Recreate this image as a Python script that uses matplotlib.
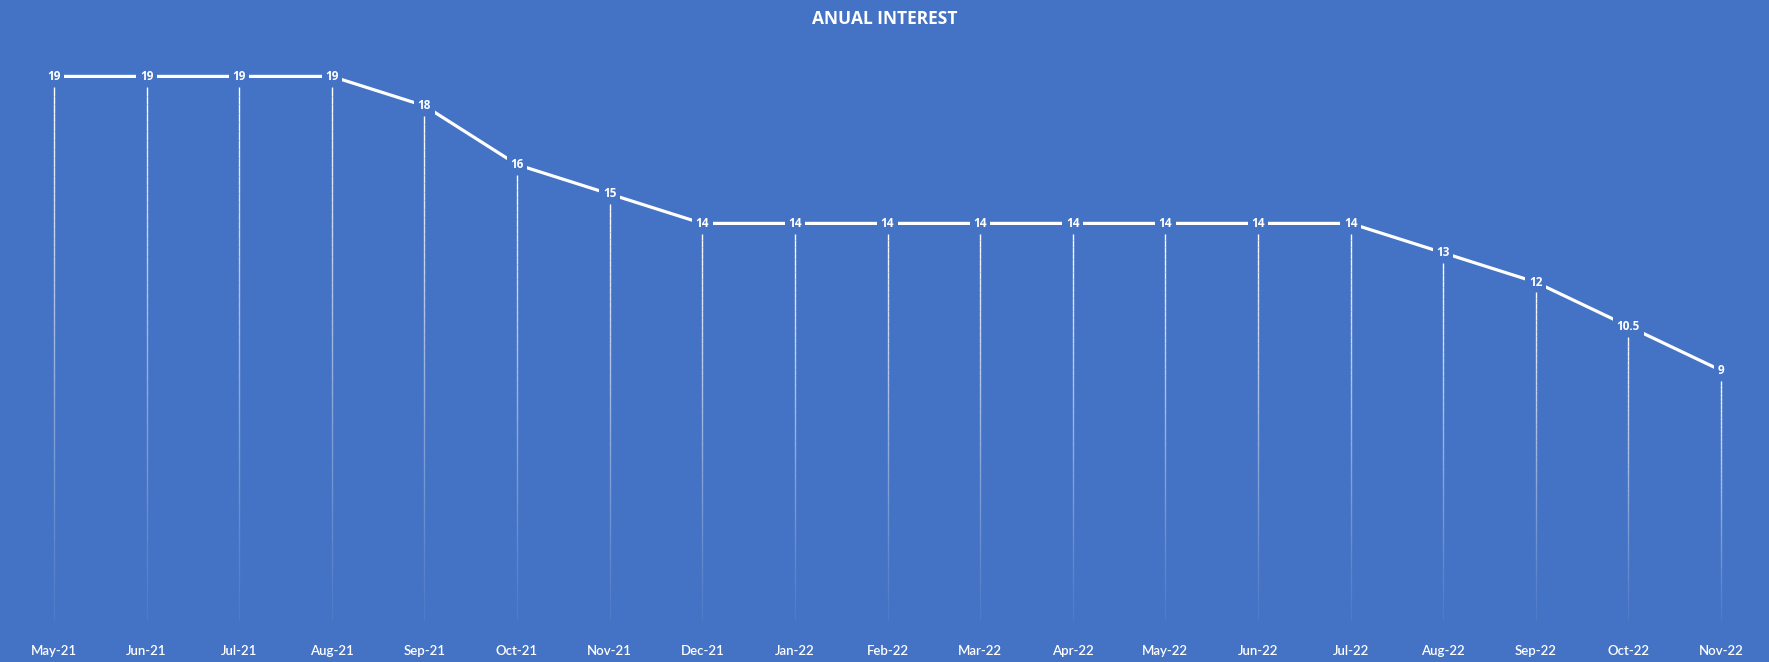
import matplotlib
matplotlib.use("Agg")
import matplotlib.pyplot as plt
import numpy as np
from matplotlib.collections import LineCollection

months = ["May-21", "Jun-21", "Jul-21", "Aug-21", "Sep-21", "Oct-21", "Nov-21",
          "Dec-21", "Jan-22", "Feb-22", "Mar-22", "Apr-22", "May-22", "Jun-22",
          "Jul-22", "Aug-22", "Sep-22", "Oct-22", "Nov-22"]
rates = [19, 19, 19, 19, 18, 16, 15, 14, 14, 14, 14, 14, 14, 14, 14, 13, 12, 10.5, 9]
title = "ANUAL INTEREST"

BG = "#4472C4"
plt.rcParams['font.family'] = ['Open Sans', 'DejaVu Sans']

fig = plt.figure(figsize=(17.69, 6.62), dpi=100, facecolor=BG)
ax = fig.add_axes([54/1769, 1-635/662, (1721-54)/1769, (635-47)/662])
ax.set_facecolor(BG)
x = np.arange(len(months))
ax.set_xlim(0, len(months)-1)
ax.set_ylim(0, 20)

# gradient drop lines
segs, cols = [], []
n = 60
for xi, v in zip(x, rates):
    top = v - 0.35
    ys = np.linspace(0.5, top, n+1)
    for k in range(n):
        segs.append([(xi, ys[k]), (xi, ys[k+1])])
        a = (k+1)/n
        cols.append((1, 1, 1, 0.05 + 0.95*a**1.2))
ax.add_collection(LineCollection(segs, colors=cols, linewidths=1.0, clip_on=False))

ax.plot(x, rates, color="white", lw=2.3, clip_on=False, solid_capstyle="butt", zorder=3)
for xi, v in zip(x, rates):
    lab = f"{v:g}"
    ax.text(xi, v, lab, ha="center", va="center", color="white", fontsize=8.5,
            fontweight="bold", zorder=4,
            bbox=dict(boxstyle="square,pad=0.3", fc=BG, ec="none"))

ax.set_xticks(x)
ax.set_xticklabels(months, color="white", fontsize=9.5, family=["Lato", "DejaVu Sans"],
                   fontweight="semibold")
ax.tick_params(axis="x", length=0, pad=7)
ax.set_yticks([])
for s in ax.spines.values():
    s.set_visible(False)

fig.text(0.5, 1-19/662, title, ha="center", va="center", color="white",
         fontsize=12.5, fontweight="bold")

fig.savefig("out.png", dpi=100, facecolor=BG)
